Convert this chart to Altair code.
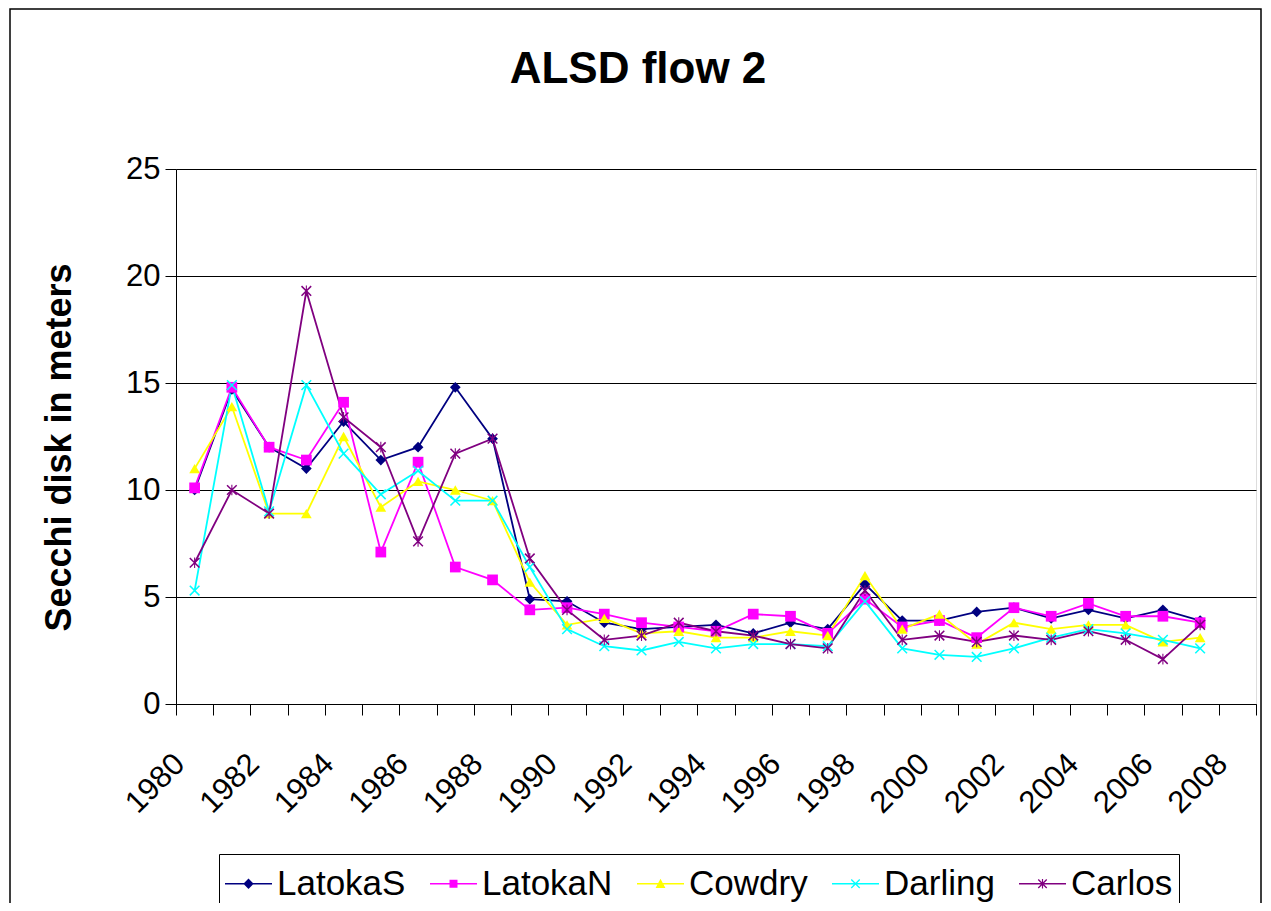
import altair as alt
import pandas as pd

# ---- data ----
axis_years = [str(y) for y in range(1980, 2009)]          # 29 categories on the axis
data_years = [str(y) for y in range(1980, 2008)]          # 28 observed years
series_names = ["LatokaS", "LatokaN", "Cowdry", "Darling", "Carlos"]

latokaS = [10.0, 14.7, 12.0, 11.0, 13.2, 11.4, 12.0, 14.8, 12.4, 4.9, 4.8, 3.8, 3.5, 3.6,
           3.7, 3.3, 3.8, 3.5, 5.6, 3.9, 3.9, 4.3, 4.5, 4.0, 4.4, 4.0, 4.4, 3.9]
latokaN = [10.1, 14.8, 12.0, 11.4, 14.1, 7.1, 11.3, 6.4, 5.8, 4.4, 4.5, 4.2, 3.8, 3.6,
           3.4, 4.2, 4.1, 3.3, 4.9, 3.6, 3.9, 3.1, 4.5, 4.1, 4.7, 4.1, 4.1, 3.8]
cowdry = [11.0, 13.9, 8.9, 8.9, 12.5, 9.2, 10.4, 10.0, 9.5, 5.7, 3.7, 4.0, 3.3, 3.4,
          3.1, 3.1, 3.4, 3.2, 6.0, 3.5, 4.2, 2.8, 3.8, 3.5, 3.7, 3.7, 2.9, 3.1]
darling = [5.3, 14.9, 9.0, 14.9, 11.7, 9.8, 10.9, 9.5, 9.5, 6.4, 3.5, 2.7, 2.5, 2.9,
           2.6, 2.8, 2.8, 2.7, 4.8, 2.6, 2.3, 2.2, 2.6, 3.1, 3.5, 3.3, 3.0, 2.6]
carlos = [6.6, 10.0, 8.9, 19.3, 13.4, 12.0, 7.6, 11.7, 12.4, 6.8, 4.4, 3.0, 3.2, 3.8,
          3.4, 3.2, 2.8, 2.6, 5.3, 3.0, 3.2, 2.9, 3.2, 3.0, 3.4, 3.0, 2.1, 3.7]

y_ticks = [0, 5, 10, 15, 20, 25]
title_text = "ALSD flow 2"
y_title = "Secchi disk in meters"

colors = ["#000080", "#FF00FF", "#FFFF00", "#00FFFF", "#800080"]

# plot markers (unit box -1..1)
X_PATH = "M-1,-0.8L-0.8,-1L1,0.8L0.8,1Z M-1,0.8L0.8,-1L1,-0.8L-0.8,1Z"
STAR_PATH = X_PATH + " M-0.1,-1L0.1,-1L0.1,1L-0.1,1Z"
shapes = ["diamond", "square", "triangle-up", X_PATH, STAR_PATH]

# legend keys: short line with the marker in its middle
LINE_KEY = "M-1,-0.033L1,-0.033L1,0.033L-1,0.033Z "
legend_shapes = [
    LINE_KEY + "M-0.22,0L0,-0.22L0.22,0L0,0.22Z",
    LINE_KEY + "M-0.17,-0.17L0.17,-0.17L0.17,0.17L-0.17,0.17Z",
    LINE_KEY + "M-0.21,0.18L0,-0.21L0.21,0.18Z",
    LINE_KEY + "M-0.2,-0.16L-0.16,-0.2L0.2,0.16L0.16,0.2Z M-0.2,0.16L0.16,-0.2L0.2,-0.16L-0.16,0.2Z",
    LINE_KEY + "M-0.2,-0.16L-0.16,-0.2L0.2,0.16L0.16,0.2Z M-0.2,0.16L0.16,-0.2L0.2,-0.16L-0.16,0.2Z "
               "M-0.025,-0.2L0.025,-0.2L0.025,0.2L-0.025,0.2Z",
]

values = [latokaS, latokaN, cowdry, darling, carlos]
rows = []
for name, vals in zip(series_names, values):
    for yr, v in zip(data_years, vals):
        rows.append({"year": yr, "value": v, "series": name})
df = pd.DataFrame(rows)

FONT = "Liberation Sans"

x_enc = alt.X(
    "year:O",
    bandPosition=0.5,
    scale=alt.Scale(type="band", domain=axis_years, paddingInner=0, paddingOuter=0),
    axis=alt.Axis(
        title=None, labelAngle=315, labelAlign="right", labelBaseline="middle",
        labelExpr="toNumber(datum.value) % 2 == 0 ? datum.value : ''",
        labelFont=FONT, labelFontSize=31, labelColor="black",
        tickBand="extent", tickSize=11, tickColor="black", labelPadding=44,
        labelOffset=-15, grid=False, domainColor="black", labelOverlap=False,
    ),
)
y_enc = alt.Y(
    "value:Q",
    scale=alt.Scale(domain=[0, 25], nice=False),
    axis=alt.Axis(
        values=y_ticks, title=y_title, titleFont=FONT, titleFontSize=36,
        titleFontWeight="bold", titleColor="black", titleAngle=270,
        titleX=-106, titleY=278, titleAlign="center", titleBaseline="alphabetic",
        labelFont=FONT, labelFontSize=31, labelColor="black", labelPadding=5,
        tickSize=11, tickColor="black", domainColor="black",
        grid=True, gridColor="black", gridWidth=1,
    ),
)

color_scale = alt.Scale(domain=series_names, range=colors)
shape_scale = alt.Scale(domain=series_names, range=shapes)
legend_shape_scale = alt.Scale(domain=series_names, range=legend_shapes)

legend_spec = alt.Legend(
    title=None, orient="none", legendX=43, legendY=685, direction="horizontal",
    columns=5, symbolSize=2209, symbolStrokeWidth=0, symbolOpacity=1,
    labelFont=FONT, labelFontSize=35, labelColor="black", labelOffset=5,
    columnPadding=24, padding=6, strokeColor="black", labelLimit=400,
)

lines = alt.Chart(df).mark_line(strokeWidth=1.8).encode(
    x=x_enc, y=y_enc,
    color=alt.Color("series:N", scale=color_scale, sort=series_names, legend=None),
)
points = alt.Chart(df).mark_point(filled=True, size=115, opacity=1).encode(
    x=x_enc, y=y_enc,
    color=alt.Color("series:N", scale=color_scale, sort=series_names, legend=None),
    shape=alt.Shape("series:N", scale=shape_scale, sort=series_names, legend=None),
)
# legend carrier: same series, no marks drawn (every row filtered out)
legend_layer = alt.Chart(df).transform_filter("datum.value < -1000").mark_point(
    filled=True, size=2209, opacity=1
).encode(
    x=x_enc, y=y_enc,
    color=alt.Color("series:N", scale=color_scale, sort=series_names, legend=legend_spec),
    shape=alt.Shape("series:N", scale=legend_shape_scale, sort=series_names, legend=legend_spec),
)

frame = alt.Chart(pd.DataFrame({"f": [0]})).mark_rect(
    fill="white", fillOpacity=0, stroke="black", strokeWidth=1.5
).encode(
    x=alt.value(-166), x2=alt.value(1085), y=alt.value(-160), y2=alt.value(760)
)

title = alt.Chart(pd.DataFrame({"t": [title_text]})).mark_text(
    font=FONT, fontSize=44, fontWeight="bold", align="center", baseline="alphabetic", color="black"
).encode(x=alt.value(462), y=alt.value(-86), text="t:N")

chart = alt.layer(frame, lines, points, legend_layer, title).properties(
    width=1080, height=535,
    padding={"left": 168, "top": 161, "right": 7, "bottom": 199},
    autosize=alt.AutoSizeParams(type="none"),
).resolve_scale(shape="independent").resolve_legend(
    color="independent", shape="independent"
).configure_view(
    fill="#C0C0C0", stroke="#808080", strokeWidth=1.5
).configure(background="white")

chart.save("out.html", embed_options={"renderer": "svg", "actions": False})
